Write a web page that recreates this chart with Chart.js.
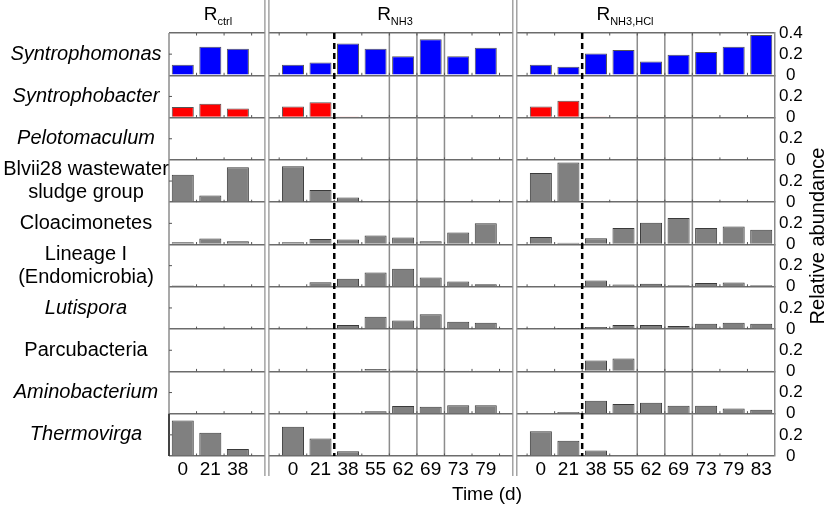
<!DOCTYPE html>
<html><head><meta charset="utf-8">
<script src="https://cdn.jsdelivr.net/npm/chart.js@4.4.0/dist/chart.umd.min.js"></script>
<style>html,body{margin:0;padding:0;background:#fff;}canvas{display:block;}</style>
</head><body>
<canvas id="c" width="829" height="507"></canvas>
<script>
const reactorNames = [["R", "ctrl"], ["R", "NH3"], ["R", "NH3,HCl"]];
const ctrlDays = ["0", "21", "38"];
const nh3Days = ["0", "21", "38", "55", "62", "69", "73", "79"];
const hclDays = ["0", "21", "38", "55", "62", "69", "73", "79", "83"];
const taxa = ["Syntrophomonas", "Syntrophobacter", "Pelotomaculum", ["Blvii28 wastewater", "sludge group"], "Cloacimonetes", ["Lineage I", "(Endomicrobia)"], "Lutispora", "Parcubacteria", "Aminobacterium", "Thermovirga"];
const italicTaxa = [true, true, true, false, false, false, true, false, true, true];
// values per taxon: R_ctrl (3) | R_NH3 (8) | R_NH3,HCl (9)
const syntrophomonas = [0.10, 0.27, 0.25, 0.10, 0.12, 0.30, 0.25, 0.18, 0.34, 0.18, 0.26, 0.10, 0.08, 0.205, 0.24, 0.13, 0.195, 0.22, 0.27, 0.38];
const syntrophobacter = [0.10, 0.13, 0.085, 0.105, 0.145, 0.006, 0, 0, 0, 0, 0, 0.105, 0.16, 0.006, 0, 0, 0, 0, 0, 0];
const pelotomaculum = [0.004, 0.003, 0.003, 0.004, 0.003, 0.003, 0.003, 0.003, 0.003, 0.003, 0.003, 0.004, 0.003, 0.003, 0.003, 0.004, 0.003, 0.003, 0.003, 0.003];
const blvii28 = [0.26, 0.063, 0.33, 0.34, 0.115, 0.045, 0, 0, 0, 0, 0, 0.275, 0.375, 0.01, 0, 0, 0, 0, 0, 0];
const cloacimonetes = [0.022, 0.057, 0.031, 0.022, 0.053, 0.047, 0.085, 0.066, 0.031, 0.113, 0.20, 0.07, 0.016, 0.06, 0.155, 0.205, 0.25, 0.155, 0.17, 0.14];
const lineageI = [0.012, 0.005, 0.005, 0.005, 0.044, 0.075, 0.135, 0.17, 0.088, 0.05, 0.025, 0.005, 0.008, 0.06, 0.022, 0.03, 0.015, 0.035, 0.04, 0.015];
const lutispora = [0, 0, 0, 0, 0.003, 0.038, 0.116, 0.082, 0.14, 0.07, 0.06, 0, 0.002, 0.019, 0.038, 0.038, 0.03, 0.05, 0.06, 0.05];
const parcubacteria = [0, 0, 0, 0, 0, 0.002, 0.022, 0.01, 0.002, 0.002, 0.002, 0, 0, 0.104, 0.123, 0.005, 0.002, 0.002, 0.002, 0.002];
const aminobacterium = [0, 0, 0, 0, 0.003, 0.01, 0.022, 0.072, 0.066, 0.079, 0.079, 0, 0.016, 0.123, 0.091, 0.104, 0.075, 0.075, 0.05, 0.038];
const thermovirga = [0.335, 0.22, 0.066, 0.277, 0.166, 0.044, 0, 0, 0, 0, 0, 0.233, 0.145, 0.053, 0, 0, 0, 0, 0, 0];
const rowValues = [syntrophomonas, syntrophobacter, pelotomaculum, blvii28, cloacimonetes, lineageI, lutispora, parcubacteria, aminobacterium, thermovirga];
const rowColors = ["#0000ff", "#ff0000", "#ff0000", "#808080", "#808080", "#808080", "#808080", "#808080", "#808080", "#808080"];
const yStep = 0.2;
const yMax = 0.4;

const FONT = "'Liberation Sans', Arial, sans-serif";
const slots = [...ctrlDays, "", ...nh3Days, "", ...hclDays];
const toSlots = a => [...a.slice(0, 3), null, ...a.slice(3, 11), null, ...a.slice(11)];
const gapSlots = [3, 12];
const solidBounds = [8, 9, 10, 17, 18, 19];
const dashedBounds = [6, 15];

const datasets = rowValues.map((v, i) => ({
  data: toSlots(v),
  yAxisID: 'y' + i,
  backgroundColor: rowColors[i],
  borderColor: i < 3 ? '#555' : '#3a3a3a',
  borderWidth: 1,
  barPercentage: 0.8,
  categoryPercentage: 1,
  grouped: false
}));

const scales = {
  x: {
    type: 'category', offset: true,
    grid: { display: false }, border: { display: false },
    ticks: { autoSkip: false, maxRotation: 0, minRotation: 0, padding: -6, color: '#000', font: { family: FONT, size: 19 } },
    afterFit: ax => { ax.height = 51; }
  }
};
rowValues.forEach((v, i) => {
  scales['y' + i] = {
    type: 'linear', position: 'right', stack: 'rows', stackWeight: 1, min: 0, max: yMax,
    afterFit: ax => { ax.width = 54; },
    grid: {
      drawTicks: false, lineWidth: 1.5,
      color: c => (c.tick && (c.tick.value === 0 || (i === 0 && c.tick.value > 0.3))) ? '#6c6c6c' : 'rgba(0,0,0,0)'
    },
    border: { display: true, color: '#8a8a8a', width: 1.5 },
    ticks: {
      autoSkip: false, stepSize: yStep, padding: 4, crossAlign: 'center', color: '#000',
      font: { family: FONT, size: 17 },
      callback: t => t === 0 ? '0' : (t > 0.3 && i > 0 ? '' : t.toFixed(1))
    }
  };
});

const deco = {
  id: 'deco',
  beforeDatasetsDraw(chart) {
    const { ctx, chartArea: a } = chart;
    const xs = chart.scales.x;
    const bx = k => (xs.getPixelForValue(k - 1) + xs.getPixelForValue(k)) / 2;
    ctx.save();
    ctx.strokeStyle = '#8c8c8c'; ctx.lineWidth = 1.5;
    solidBounds.forEach(k => { ctx.beginPath(); ctx.moveTo(bx(k), a.top); ctx.lineTo(bx(k), a.bottom); ctx.stroke(); });
    ctx.beginPath(); ctx.moveTo(a.left, a.top); ctx.lineTo(a.left, a.bottom); ctx.stroke();
    const last = chart.scales['y' + (rowValues.length - 1)];
    ctx.strokeStyle = '#222';
    ctx.beginPath(); ctx.moveTo(a.left, last.top); ctx.lineTo(a.left, last.bottom); ctx.stroke();
    ctx.strokeStyle = '#555'; ctx.lineWidth = 1;
    rowValues.forEach((v, i) => {
      const ys = chart.scales['y' + i];
      const y0 = ys.getPixelForValue(0);
      for (let k = 1; k < slots.length; k++) {
        ctx.beginPath(); ctx.moveTo(bx(k), y0); ctx.lineTo(bx(k), y0 - 2.5); ctx.stroke();
        if (i === 0) { const yt = ys.getPixelForValue(yMax); ctx.beginPath(); ctx.moveTo(bx(k), yt); ctx.lineTo(bx(k), yt + 2.5); ctx.stroke(); }
      }
      const y2 = ys.getPixelForValue(yStep);
      ctx.beginPath(); ctx.moveTo(a.left, y2); ctx.lineTo(a.left + 3, y2); ctx.stroke();
    });
    ctx.restore();
  },
  afterDatasetsDraw(chart) {
    const { ctx, chartArea: a } = chart;
    const xs = chart.scales.x;
    const bx = k => (xs.getPixelForValue(k - 1) + xs.getPixelForValue(k)) / 2;
    ctx.save();
    ctx.strokeStyle = '#000'; ctx.lineWidth = 2.5; ctx.setLineDash([6, 4]);
    dashedBounds.forEach(k => { ctx.beginPath(); ctx.moveTo(bx(k), a.top); ctx.lineTo(bx(k), a.bottom); ctx.stroke(); });
    ctx.restore();
  },
  afterDraw(chart) {
    const { ctx } = chart;
    const xs = chart.scales.x;
    ctx.save();
    gapSlots.forEach(s => {
      const cx = xs.getPixelForValue(s) + 1.5;
      ctx.fillStyle = '#fff'; ctx.fillRect(cx - 2, 0, 4, 476);
      ctx.strokeStyle = '#8c8c8c'; ctx.lineWidth = 1.2;
      [cx - 2, cx + 2].forEach(x => { ctx.beginPath(); ctx.moveTo(x, 0); ctx.lineTo(x, 476); ctx.stroke(); });
    });
    const headerX = [218, 395, 625];
    ctx.fillStyle = '#000'; ctx.textBaseline = 'alphabetic'; ctx.textAlign = 'left';
    reactorNames.forEach((n, i) => {
      ctx.font = '19px ' + FONT; const w1 = ctx.measureText(n[0]).width;
      ctx.font = '11px ' + FONT; const w2 = ctx.measureText(n[1]).width;
      const x0 = headerX[i] - (w1 + w2) / 2;
      ctx.font = '19px ' + FONT; ctx.fillText(n[0], x0, 19.5);
      ctx.font = '11px ' + FONT; ctx.fillText(n[1], x0 + w1, 25);
    });
    ctx.textAlign = 'center'; ctx.textBaseline = 'middle';
    taxa.forEach((t, i) => {
      const ys = chart.scales['y' + i];
      const cy = (ys.top + ys.bottom) / 2;
      ctx.font = (italicTaxa[i] ? 'italic ' : '') + '20px ' + FONT;
      const lines = Array.isArray(t) ? t : [t];
      lines.forEach((l, j) => ctx.fillText(l, 86, cy + (j - (lines.length - 1) / 2) * 23));
    });
    ctx.font = '19px ' + FONT;
    ctx.fillText('Time (d)', 487, 495);
    ctx.translate(818, 236); ctx.rotate(-Math.PI / 2);
    ctx.font = '20px ' + FONT;
    ctx.fillText('Relative abundance', 0, 0);
    ctx.restore();
  }
};

new Chart(document.getElementById('c'), {
  type: 'bar',
  data: { labels: slots, datasets },
  options: {
    responsive: false, animation: false,
    layout: { padding: { left: 169, top: 33, right: 0, bottom: 0 } },
    plugins: { legend: { display: false }, tooltip: { enabled: false } },
    scales
  },
  plugins: [deco]
});
</script>
</body></html>
